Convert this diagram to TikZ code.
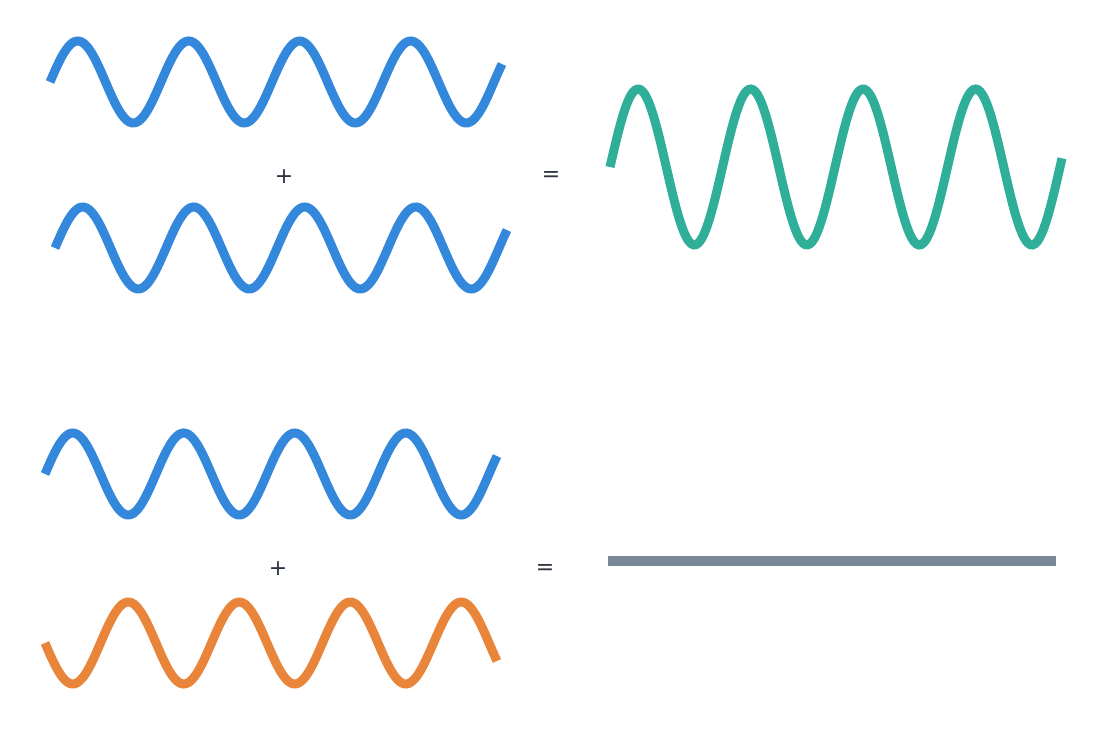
\documentclass[tikz,border=0pt]{standalone}
\usepackage{fontspec}
\setmainfont{DejaVu Sans}
\usetikzlibrary{positioning}
\definecolor{waveblue}{HTML}{3388DB}
\definecolor{wavegreen}{HTML}{2FAE9A}
\definecolor{waveorange}{HTML}{E8853A}
\definecolor{flatgray}{HTML}{788896}
\definecolor{signdark}{HTML}{2B3240}
\tikzset{
  wave/.style={line width=9pt, line cap=butt, samples=200, smooth},
  sign/.style={text=signdark, font=\fontsize{22}{22}\selectfont}
}
\begin{document}
\begin{tikzpicture}[x=1pt,y=-1pt]
  \useasboundingbox (0,0) rectangle (1105,738);
  % top sum
  \draw[wave, waveblue] plot[domain=50:502] (\x, {82-41*sin((\x-50)*3.2432)});
  \draw[wave, waveblue] plot[domain=55:507] (\x, {248-41*sin((\x-55)*3.2432)});
  \node[sign] (plusA) at (284,177) {+};
  \node[sign] (eqA) at (551,177) {=};
  \draw[wave, wavegreen] plot[domain=610:1062] (\x, {167-78*sin((\x-610)*3.2)});
  % bottom sum
  \draw[wave, waveblue] plot[domain=45:497] (\x, {474-41*sin((\x-45)*3.2432)});
  \draw[wave, waveorange] plot[domain=45:497] (\x, {643+41*sin((\x-45)*3.2432)});
  \node[sign] (plusB) at (278,569) {+};
  \node[sign] (eqB) at (545,569) {=};
  \draw[line width=10pt, flatgray] (608,561) -- (1056,561);
\end{tikzpicture}
\end{document}
